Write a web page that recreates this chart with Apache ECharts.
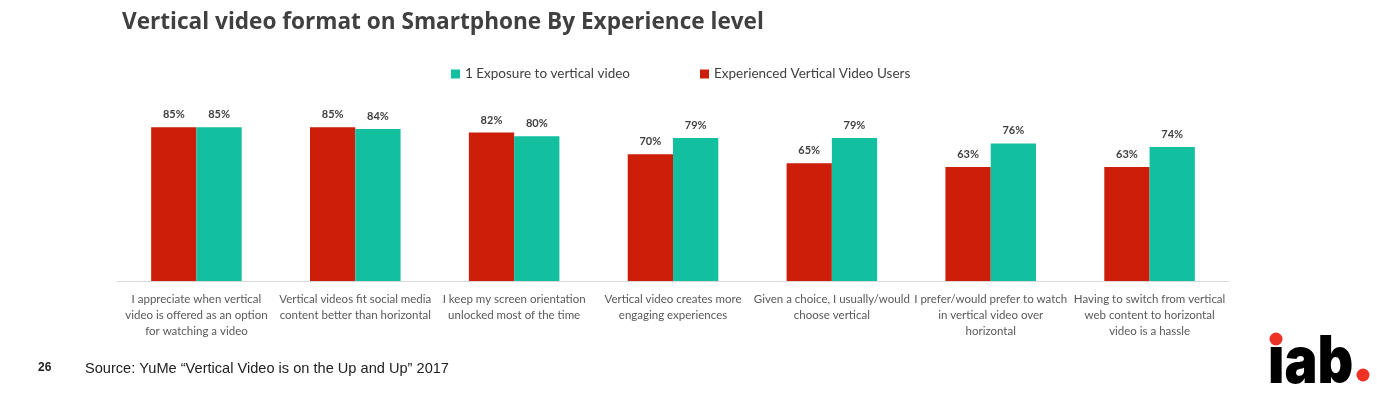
<!DOCTYPE html>
<html><head><meta charset="utf-8">
<script src="https://cdn.jsdelivr.net/npm/echarts@6/dist/echarts.min.js"></script>
<style>html,body{margin:0;padding:0;background:#fff}#c{width:1377px;height:394px}</style>
</head><body><div id="c"></div>
<script>
const categories = [
  "I appreciate when vertical\nvideo is offered as an option\nfor watching a video",
  "Vertical videos fit social media\ncontent better than horizontal",
  "I keep my screen orientation\nunlocked most of the time",
  "Vertical video creates more\nengaging experiences",
  "Given a choice, I usually/would\nchoose vertical",
  "I prefer/would prefer to watch\nin vertical video over\nhorizontal",
  "Having to switch from vertical\nweb content to horizontal\nvideo is a hassle"
];
const experiencedName = "Experienced Vertical Video Users";
const exposureName = "1 Exposure to vertical video";
const experiencedValues = [85, 85, 82, 70, 65, 63, 63];
const exposureValues = [85, 84, 80, 79, 79, 76, 74];

const RED = '#CD1E0A', GREEN = '#12BF9F';
const chart = echarts.init(document.getElementById('c'));
const labelStyle = {show: true, position: 'top', distance: 7, formatter: '{c}%', color: '#404040', fontWeight: 'bold', fontSize: 11, fontFamily: 'Lato'};
chart.setOption({
  animation: false,
  title: {text: 'Vertical video format on Smartphone By Experience level', left: 117, top: 6,
    textStyle: {fontFamily: 'Open Sans', fontWeight: 'bold', fontSize: 22.6, color: '#404040'}},
  legend: {data: [exposureName, experiencedName], top: 62, left: 446, itemGap: 70, itemWidth: 9, itemHeight: 9,
    icon: 'rect', textStyle: {fontFamily: 'Lato', fontSize: 13.5, color: '#404040'}},
  grid: {left: 117, right: 148, top: 100, bottom: 113, containLabel: false},
  xAxis: {type: 'category', data: categories,
    axisLine: {lineStyle: {color: '#D9D9D9', width: 1}}, axisTick: {show: false},
    axisLabel: {interval: 0, margin: 10, lineHeight: 16, fontFamily: 'Lato', fontSize: 11.5, color: '#595959', align: 'center'}},
  yAxis: {type: 'value', min: 0, max: 100, show: false, splitLine: {show: false}},
  series: [
    {name: experiencedName, type: 'bar', data: experiencedValues, itemStyle: {color: RED}, barGap: '0%', barCategoryGap: '43%', label: labelStyle},
    {name: exposureName, type: 'bar', data: exposureValues, itemStyle: {color: GREEN}, barGap: '0%', barCategoryGap: '43%', label: labelStyle}
  ],
  graphic: [
    {type: 'text', left: 38, top: 362, style: {text: '26', font: 'bold 12px "Liberation Sans"', fill: '#222'}},
    {type: 'text', left: 85, top: 361, style: {text: 'Source: YuMe \u201cVertical Video is on the Up and Up\u201d 2017', font: '14.6px "Liberation Sans"', fill: '#222'}},
    {type: 'text', x: 1268, y: 330, scaleX: 0.84, style: {x: 0, y: 0, text: '\u0131ab', font: '900 66px "Inter"', fill: '#000'}},
    {type: 'circle', shape: {cx: 1276, cy: 339, r: 6.5}, style: {fill: '#EE3124'}},
    {type: 'circle', shape: {cx: 1363, cy: 375, r: 6.5}, style: {fill: '#EE3124'}}
  ]
});
</script></body></html>
